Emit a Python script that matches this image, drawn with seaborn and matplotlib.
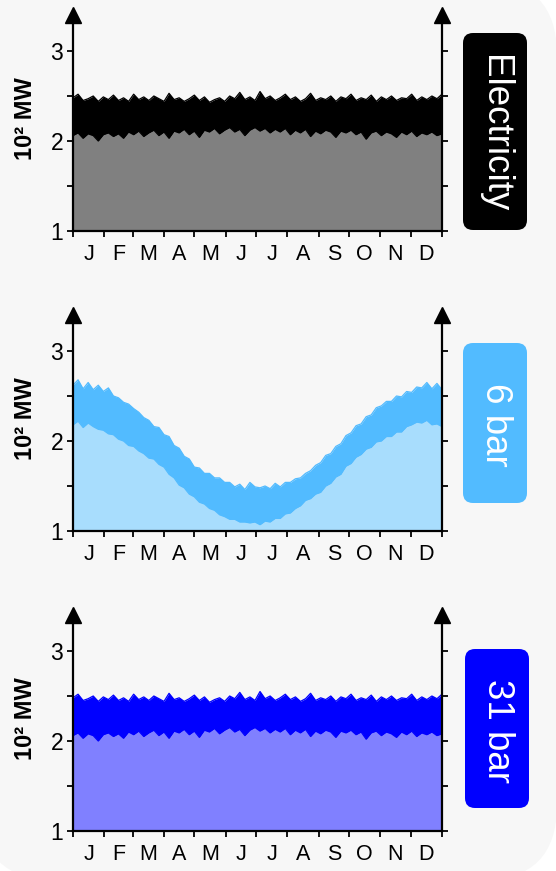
import numpy as np
import pandas as pd
import matplotlib
matplotlib.use("Agg")
import matplotlib.pyplot as plt
from matplotlib.patches import FancyBboxPatch
import seaborn as sns

# ---------------- data ----------------
month_letters = ["J", "F", "M", "A", "M", "J", "J", "A", "S", "O", "N", "D"]
month_starts = [0, 31, 59, 90, 120, 151, 181, 212, 243, 273, 304, 334, 365]

# Electricity: upper / lower envelope of hourly load (10^2 MW), every 5 days
elec_upper = [2.48, 2.52, 2.45, 2.47, 2.50, 2.44, 2.49, 2.46, 2.51, 2.45, 2.48, 2.44, 2.52,
              2.46, 2.49, 2.45, 2.50, 2.47, 2.44, 2.53, 2.46, 2.48, 2.44, 2.47, 2.51, 2.45,
              2.49, 2.43, 2.46, 2.48, 2.44, 2.50, 2.47, 2.54, 2.46, 2.49, 2.45, 2.55, 2.47,
              2.50, 2.45, 2.48, 2.52, 2.46, 2.49, 2.44, 2.47, 2.53, 2.45, 2.48, 2.46, 2.50,
              2.44, 2.49, 2.47, 2.52, 2.45, 2.48, 2.46, 2.51, 2.44, 2.49, 2.46, 2.50, 2.45,
              2.48, 2.47, 2.52, 2.45, 2.49, 2.46, 2.50, 2.47, 2.52]
elec_lower = [2.06, 2.09, 2.03, 2.08, 2.06, 2.00, 2.07, 2.09, 2.05, 2.08, 2.03, 2.10, 2.07,
              2.11, 2.05, 2.09, 2.12, 2.06, 2.10, 2.03, 2.11, 2.09, 2.13, 2.07, 2.11, 2.04,
              2.12, 2.10, 2.14, 2.08, 2.12, 2.15, 2.10, 2.13, 2.06, 2.12, 2.15, 2.11, 2.14,
              2.09, 2.13, 2.10, 2.14, 2.07, 2.12, 2.09, 2.13, 2.05, 2.11, 2.08, 2.12, 2.10,
              2.04, 2.11, 2.09, 2.12, 2.07, 2.10, 2.02, 2.09, 2.11, 2.06, 2.10, 2.08, 2.04,
              2.10, 2.07, 2.11, 2.05, 2.09, 2.07, 2.10, 2.06, 2.08]

# 6 bar steam
bar6_upper = [2.62, 2.68, 2.58, 2.65, 2.57, 2.62, 2.55, 2.59, 2.50, 2.48, 2.43, 2.41, 2.36,
              2.32, 2.26, 2.23, 2.16, 2.15, 2.07, 2.05, 1.95, 1.92, 1.83, 1.80, 1.71, 1.70,
              1.64, 1.64, 1.59, 1.59, 1.54, 1.54, 1.49, 1.52, 1.46, 1.54, 1.49, 1.48, 1.50,
              1.47, 1.53, 1.49, 1.54, 1.54, 1.58, 1.59, 1.64, 1.67, 1.73, 1.76, 1.84, 1.86,
              1.94, 1.97, 2.06, 2.09, 2.17, 2.19, 2.27, 2.29, 2.37, 2.39, 2.44, 2.44, 2.50,
              2.49, 2.55, 2.54, 2.60, 2.59, 2.65, 2.58, 2.64, 2.57]
bar6_lower = [2.18, 2.22, 2.15, 2.20, 2.16, 2.13, 2.12, 2.08, 2.07, 2.02, 2.00, 1.95, 1.94,
              1.89, 1.86, 1.81, 1.80, 1.74, 1.71, 1.63, 1.59, 1.51, 1.48, 1.41, 1.38, 1.32,
              1.30, 1.25, 1.23, 1.18, 1.16, 1.13, 1.13, 1.10, 1.10, 1.09, 1.10, 1.07, 1.11,
              1.10, 1.14, 1.14, 1.19, 1.20, 1.25, 1.28, 1.34, 1.36, 1.41, 1.43, 1.50, 1.53,
              1.60, 1.63, 1.72, 1.75, 1.82, 1.85, 1.91, 1.93, 1.99, 2.00, 2.05, 2.05, 2.10,
              2.10, 2.16, 2.18, 2.21, 2.20, 2.23, 2.18, 2.19, 2.16]

# 31 bar steam (same profile as electricity in the picture)
bar31_upper = list(elec_upper)
bar31_lower = list(elec_lower)

panel_names = ["Electricity", "6 bar", "31 bar"]
dark_colors = ["#000000", "#52bbff", "#0000ff"]
light_colors = ["#808080", "#a8ddfd", "#8080ff"]

# ---------------- figure ----------------
sns.set_theme(style="ticks")
plt.rcParams["font.family"] = ["Liberation Sans", "DejaVu Sans"]

W, H = 556, 871
fig = plt.figure(figsize=(W / 100, H / 100), dpi=100, facecolor="white")

card = FancyBboxPatch((-0.2, -0.09), 5.77, 9.0,
                      boxstyle="round,pad=0,rounding_size=0.75",
                      transform=fig.dpi_scale_trans, facecolor="#f7f7f7",
                      edgecolor="none", zorder=-5)
fig.add_artist(card)

series = [(elec_upper, elec_lower), (bar6_upper, bar6_lower), (bar31_upper, bar31_lower)]
bottoms_px = [231, 531, 831]           # pixel row of value 1
boxes_px = [(463, 33, 527, 230), (463, 343, 527, 503), (465, 649, 529, 808)]

for i, ((up, lo), name) in enumerate(zip(series, panel_names)):
    days = np.linspace(0, 365, len(up))
    df = pd.DataFrame({"day": days, "upper": up, "lower": lo})
    b = bottoms_px[i]
    ax = fig.add_axes([73 / W, (H - b) / H, 369 / W, 225 / H])
    ax.set_facecolor("none")
    ax.fill_between(df["day"], 1, df["lower"], color=light_colors[i], lw=0, zorder=1)
    ax.fill_between(df["day"], df["lower"], df["upper"], color=dark_colors[i], lw=0, zorder=2)
    sns.lineplot(data=df, x="day", y="upper", ax=ax, color=dark_colors[i], lw=0.9, zorder=3)
    sns.lineplot(data=df, x="day", y="lower", ax=ax, color=dark_colors[i], lw=0.9, zorder=3)

    ax.set_xlim(0, 365)
    ax.set_ylim(1, 3.5)
    ax.set_yticks([1, 2, 3])
    ax.set_yticklabels(["1", "2", "3"])
    ax.set_yticks([1.5, 2.5], minor=True)
    ax.set_xticks(month_starts)
    ax.set_xticklabels([])
    mids = [(month_starts[k] + month_starts[k + 1]) / 2 for k in range(12)]
    ax.set_xticks(mids, minor=True)
    ax.set_xticklabels(month_letters, minor=True)
    ax.tick_params(axis="x", which="minor", length=0, labelsize=15.5, pad=9, colors="black")
    ax.tick_params(axis="x", which="major", length=4, width=1.3, direction="out", color="black")
    ax.tick_params(axis="y", which="both", length=4, width=1.3, direction="out",
                   left=True, right=True, labelsize=16.5, pad=3, color="black", labelcolor="black")
    for s in ["left", "right", "bottom"]:
        ax.spines[s].set_visible(True)
        ax.spines[s].set_linewidth(1.6)
        ax.spines[s].set_color("black")
        ax.spines[s].set_zorder(5)
    ax.spines["top"].set_visible(False)
    ax.spines["left"].set_bounds(1, 3.4)
    ax.spines["right"].set_bounds(1, 3.4)
    for xa in (0, 1):
        ax.plot([xa], [1 - 9 / 225], marker="^", markersize=12, color="black",
                transform=ax.transAxes, clip_on=False, zorder=6)
    ax.set_xlabel("")
    ax.set_ylabel("10² MW", fontsize=17, fontweight="bold", color="black")
    ax.yaxis.set_label_coords(-0.098, 0.5)

    x0, y0, x1, y1 = boxes_px[i]
    box = FancyBboxPatch((x0 / 100, (H - y1) / 100), (x1 - x0) / 100, (y1 - y0) / 100,
                         boxstyle="round,pad=0,rounding_size=0.1",
                         transform=fig.dpi_scale_trans, facecolor=dark_colors[i],
                         edgecolor="none", zorder=1)
    fig.add_artist(box)
    fig.text((x0 + x1) / 2 / W, (H - (y0 + y1) / 2 - 2) / H, name, rotation=270,
             ha="center", va="center", color="white", fontsize=26.5,
             rotation_mode="anchor")

fig.savefig("out.png", dpi=100, facecolor="white")
